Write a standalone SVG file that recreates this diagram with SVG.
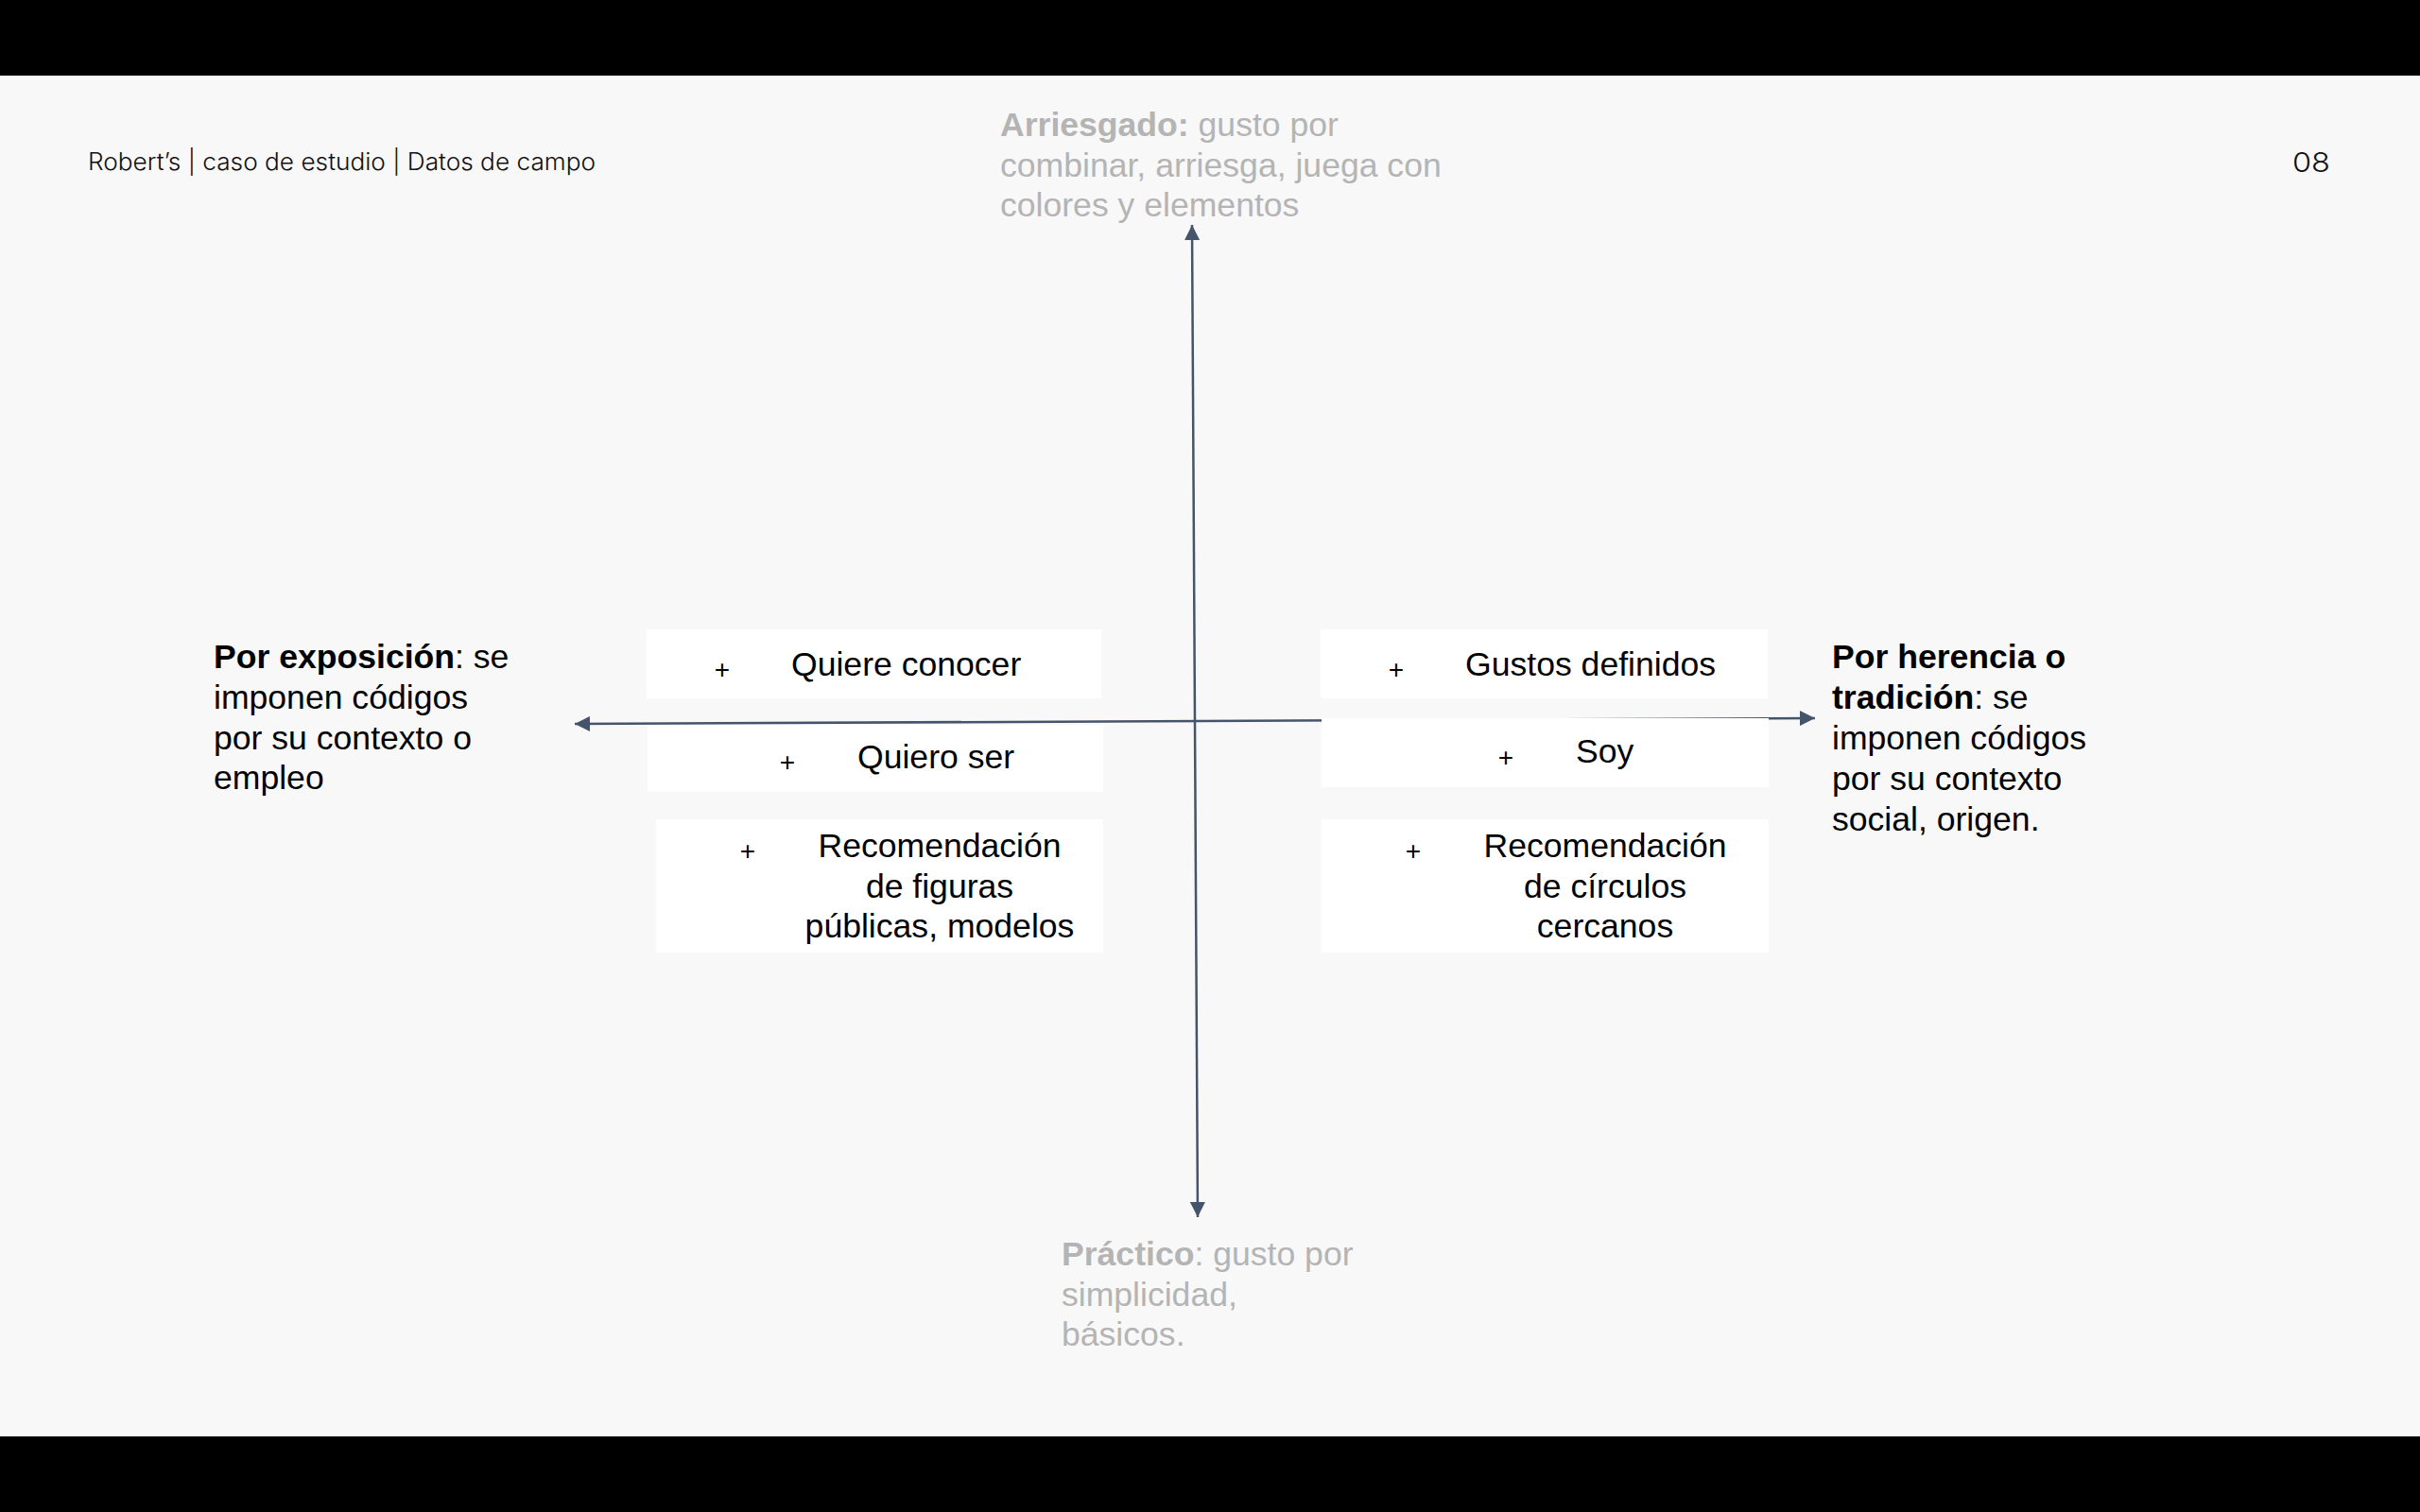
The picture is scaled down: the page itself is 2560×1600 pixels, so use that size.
<svg xmlns="http://www.w3.org/2000/svg" width="2560" height="1600" viewBox="0 0 2560 1600">
  <defs>
    <marker id="arrow" viewBox="0 0 16 16" refX="16" refY="8" markerWidth="16" markerHeight="16" markerUnits="userSpaceOnUse" orient="auto-start-reverse">
      <path d="M0,0 L16,8 L0,16 z" fill="#44546a"/>
    </marker>
    <style>
      .bg { fill: #f8f8f8; }
      .bar { fill: #000000; }
      .hdr { font-family: Inter, "Open Sans", "Liberation Sans", sans-serif; font-weight: 300; fill: #111111; }
      .txt { font-family: "Liberation Sans", Arial, Helvetica, sans-serif; font-size: 35.6px; fill: #000000; }
      .grey { font-family: "Liberation Sans", Arial, Helvetica, sans-serif; font-size: 35.6px; fill: #b4b4b4; }
      .b { font-weight: bold; }
      .box { fill: #ffffff; }
      .plus { font-family: "Liberation Sans", Arial, sans-serif; font-size: 28px; fill: #000000; text-anchor: middle; }
      .mid { text-anchor: middle; }
      .axis { stroke: #44546a; stroke-width: 2.5; fill: none; }
    </style>
  </defs>

  <rect class="bg" x="0" y="0" width="2560" height="1600"/>
  <rect class="bar" x="0" y="0" width="2560" height="80"/>
  <rect class="bar" x="0" y="1520" width="2560" height="80"/>

  <g id="header">
    <text class="hdr" x="93" y="180" font-size="25" textLength="537" lengthAdjust="spacingAndGlyphs">Robert’s | caso de estudio | Datos de campo</text>
    <text class="hdr" x="2425" y="182" font-size="29" textLength="40" lengthAdjust="spacingAndGlyphs">08</text>
  </g>

  <g id="connectors">
    <line id="axis-vertical" class="axis" x1="1261" y1="238" x2="1267" y2="1288" marker-start="url(#arrow)" marker-end="url(#arrow)"/>
    <line id="axis-horizontal" class="axis" x1="608" y1="766" x2="1920" y2="760" marker-start="url(#arrow)" marker-end="url(#arrow)"/>
  </g>

  <g id="label-top">
    <text class="grey" x="1058" y="144"><tspan class="b">Arriesgado:</tspan> gusto por</text>
    <text class="grey" x="1058" y="186.5">combinar, arriesga, juega con</text>
    <text class="grey" x="1058" y="229">colores y elementos</text>
  </g>

  <g id="label-bottom">
    <text class="grey" x="1123" y="1339"><tspan class="b">Práctico</tspan>: gusto por</text>
    <text class="grey" x="1123" y="1381.5">simplicidad,</text>
    <text class="grey" x="1123" y="1424">básicos.</text>
  </g>

  <g id="label-left">
    <text class="txt" x="226" y="707"><tspan class="b">Por exposición</tspan>: se</text>
    <text class="txt" x="226" y="750">imponen códigos</text>
    <text class="txt" x="226" y="793">por su contexto o</text>
    <text class="txt" x="226" y="835">empleo</text>
  </g>

  <g id="label-right">
    <text class="txt" x="1938" y="707" font-weight="bold">Por herencia o</text>
    <text class="txt" x="1938" y="750"><tspan class="b">tradición</tspan>: se</text>
    <text class="txt" x="1938" y="793">imponen códigos</text>
    <text class="txt" x="1938" y="836">por su contexto</text>
    <text class="txt" x="1938" y="879">social, origen.</text>
  </g>

  <g id="node-quiere-conocer">
    <rect class="box" x="684" y="666" width="481" height="73"/>
    <text class="plus" x="764" y="718">+</text>
    <text class="txt" x="837" y="715">Quiere conocer</text>
  </g>

  <g id="node-quiero-ser">
    <rect class="box" x="685" y="767" width="482" height="71"/>
    <text class="plus" x="833" y="816">+</text>
    <text class="txt" x="907" y="813">Quiero ser</text>
  </g>

  <g id="node-recomendacion-figuras">
    <rect class="box" x="694" y="867" width="473" height="141"/>
    <text class="plus" x="791" y="910">+</text>
    <text class="txt mid" x="994" y="907">Recomendación</text>
    <text class="txt mid" x="994" y="949.5">de figuras</text>
    <text class="txt mid" x="994" y="992">públicas, modelos</text>
  </g>

  <g id="node-gustos-definidos">
    <rect class="box" x="1397" y="666" width="473" height="73"/>
    <text class="plus" x="1477" y="718">+</text>
    <text class="txt" x="1550" y="715">Gustos definidos</text>
  </g>

  <g id="node-soy">
    <rect class="box" x="1398" y="760" width="473" height="73"/>
    <text class="plus" x="1593" y="811">+</text>
    <text class="txt" x="1667" y="807">Soy</text>
  </g>

  <g id="node-recomendacion-circulos">
    <rect class="box" x="1398" y="867" width="473" height="141"/>
    <text class="plus" x="1495" y="910">+</text>
    <text class="txt mid" x="1698" y="907">Recomendación</text>
    <text class="txt mid" x="1698" y="949.5">de círculos</text>
    <text class="txt mid" x="1698" y="992">cercanos</text>
  </g>
</svg>
